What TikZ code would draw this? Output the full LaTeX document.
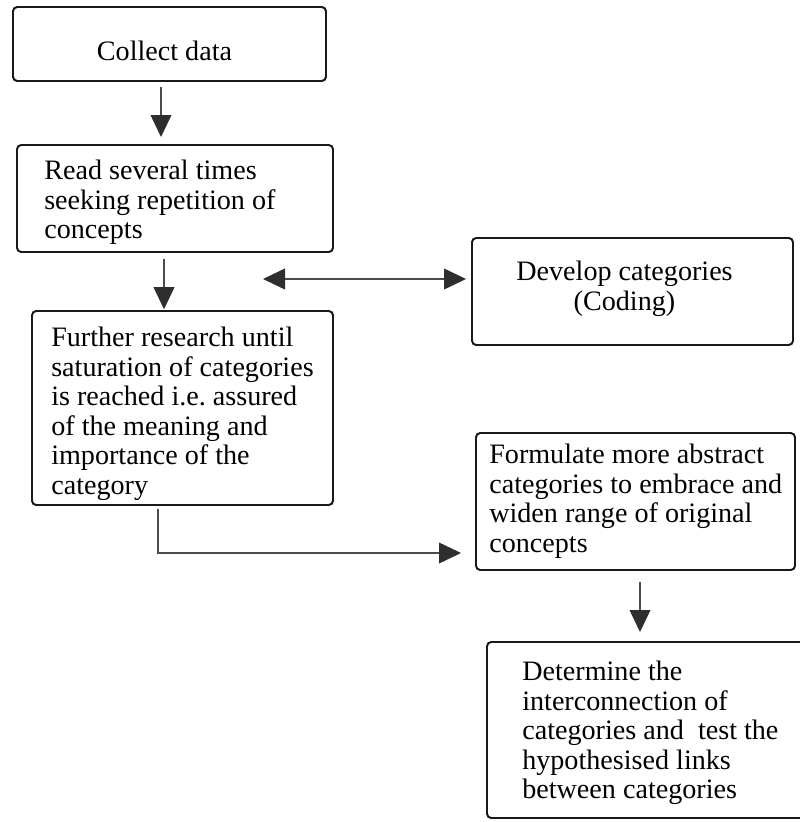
\documentclass[tikz,border=0pt]{standalone}
\usepackage{fontspec}
\setmainfont{Liberation Serif}
\usetikzlibrary{arrows.meta,calc,fit}
\tikzset{fhead/.tip={Triangle[length=0.55cm,width=0.52cm,color=black!82]}}
\begin{document}
\begin{tikzpicture}[x=0.025cm,y=-0.025cm,
  box/.style={draw=black!90, line width=1.4pt, rounded corners=3pt, inner sep=0pt},
  txt/.style={inner sep=0pt, font=\fontsize{20}{21}\selectfont, text=black},
  flow/.style={draw=black!70, line width=0.9pt, -{fhead}},
  twoway/.style={draw=black!70, line width=0.9pt, {fhead}-{fhead}}
]
\useasboundingbox (0,0) rectangle (800,822);

% boxes
\node[box, fit={(13,7) (326,81)}] (B1) {};
\node[box, fit={(17,145) (333,252)}] (B2) {};
\node[box, fit={(472,238) (793,345)}] (B3) {};
\node[box, fit={(32,311) (333,505)}] (B4) {};
\node[box, fit={(476,433) (795,570)}] (B5) {};
\node[box, fit={(487,642) (815,818)}] (B6) {};

% texts
\node[txt, anchor=north] (t1) at ($(B1.north)+(-5,35)$) {Collect data};
\node[txt, anchor=north west, align=left] (t2) at ($(B2.north west)+(28,16)$)
  {Read several times\\seeking repetition of\\concepts};
\node[txt, anchor=north, align=center] (t3) at ($(B3.north)+(-8,24)$)
  {Develop categories\\(Coding)};
\node[txt, anchor=north west, align=left] (t4) at ($(B4.north west)+(20,17)$)
  {Further research until\\saturation of categories\\is reached i.e.\ assured\\of the meaning and\\importance of the\\category};
\node[txt, anchor=north west, align=left] (t5) at ($(B5.north west)+(14,12)$)
  {Formulate more abstract\\categories to embrace and\\widen range of original\\concepts};
\node[txt, anchor=north west, align=left] (t6) at ($(B6.north west)+(36,20)$)
  {Determine the\\interconnection of\\categories and\ \ test the\\hypothesised links\\between categories};

% connectors
\coordinate (a1) at ($(B1.south)+(-8.5,5)$);
\draw[flow, shorten >=0.175cm] (a1) -- (a1 |- B2.north);

\coordinate (a2) at ($(B2.south)+(-11,6)$);
\draw[flow, shorten >=0.02cm] (a2) -- (a2 |- B4.north);

\coordinate (dl) at (263,279);
\draw[twoway, shorten >=0.125cm] (dl) -- (dl -| B3.west);

\coordinate (e0) at ($(B4.south)+(-24.5,3)$);
\draw[flow] (e0) |- ($(B5.west)+(-14,51.5)$);

\coordinate (a3) at ($(B5.south)+(4.5,11)$);
\draw[flow, shorten >=0.225cm] (a3) -- (a3 |- B6.north);
\end{tikzpicture}
\end{document}
